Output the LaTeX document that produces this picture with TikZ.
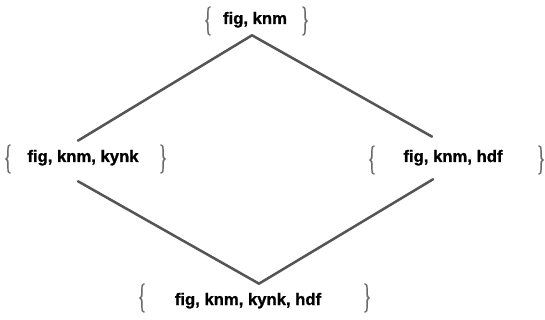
\documentclass[tikz,border=0pt]{standalone}
\usepackage{fontspec}
\setmainfont{Liberation Sans}[BoldFeatures={FakeBold=1.2}]
\newfontfamily\bracefont{Liberation Serif}[FakeBold=0.8]
\usetikzlibrary{calc}
\definecolor{edgegray}{HTML}{555555}
\definecolor{bracegray}{HTML}{6A6A6A}
\tikzset{
  setlabel/.style={inner sep=0pt, anchor=base, font=\fontsize{12.5}{15}\selectfont\bfseries},
  brace/.style={inner sep=0pt, text=bracegray, font=\bracefont\fontsize{26}{30}\selectfont},
  edge/.style={draw=edgegray, line width=1.9pt, line cap=round}
}
\newcommand{\lbr}{\scalebox{0.5}[1]{\{}}
\newcommand{\rbr}{\scalebox{0.5}[1]{\}}}
\begin{document}
\begin{tikzpicture}[x=0.75pt,y=-0.75pt]
\useasboundingbox (0,0) rectangle (545,320);
% the four sets of the lattice
\node[setlabel] (top) at (255,24) {fig, knm};
\node[setlabel] (left) at (83,162) {fig, knm, kynk};
\node[setlabel] (right) at (453,162) {fig, knm, hdf};
\node[setlabel] (bot) at (248,305) {fig, knm, kynk, hdf};
% braces around each set
\node[brace] (top-lb) at (208,21) {\lbr};
\node[brace] (top-rb) at (305,21) {\rbr};
\node[brace] (left-lb) at (8,159) {\lbr};
\node[brace] (left-rb) at (163,159) {\rbr};
\node[brace] (right-lb) at (372,160) {\lbr};
\node[brace] (right-rb) at (541,160) {\rbr};
\node[brace] (bot-lb) at (142,298) {\lbr};
\node[brace] (bot-rb) at (367,298) {\rbr};
% inclusion edges
\draw[edge] ($(top.south)+(-3,7.5)$) -- ($(left.north)+(-5,-9)$);
\draw[edge] ($(top.south)+(-3,7.5)$) -- ($(right.north)+(-21,-13)$);
\draw[edge] ($(left.south)+(-5,15.5)$) -- ($(bot.north)+(11,-9)$);
\draw[edge] ($(right.south)+(-20,13.5)$) -- ($(bot.north)+(11,-9)$);
\end{tikzpicture}
\end{document}
